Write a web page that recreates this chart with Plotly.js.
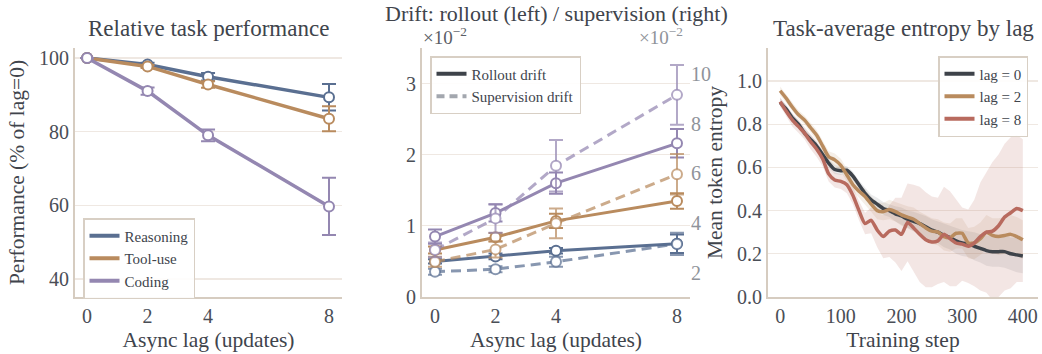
<!DOCTYPE html>
<html><head><meta charset="utf-8">
<script src="https://cdn.plot.ly/plotly-3.0.1.min.js"></script>
<style>html,body{margin:0;padding:0;background:#fff}</style>
</head><body><div id="chart" style="width:1042px;height:354px"></div>
<script>
// ---------- data ----------
const lags = [0, 2, 4, 8];
const lagTicks = ['0', '2', '4', '8'];

const perfReasoning = [100, 98.2, 94.9, 89.3];
const perfReasoningErr = [0, 0.5, 1.0, 3.6];
const perfToolUse = [100, 97.7, 92.8, 83.5];
const perfToolUseErr = [0, 0.4, 0.9, 3.4];
const perfCoding = [100, 91.0, 79.0, 59.7];
const perfCodingErr = [0, 1.0, 1.6, 7.8];
const refLevel = 100;

// rollout drift (left axis, x1e-2)
const rolloutReasoning = [0.50, 0.57, 0.65, 0.75];
const rolloutReasoningErr = [0.03, 0.04, 0.04, 0.13];
const rolloutToolUse = [0.66, 0.84, 1.07, 1.35];
const rolloutToolUseErr = [0.05, 0.06, 0.10, 0.11];
const rolloutCoding = [0.85, 1.18, 1.60, 2.16];
const rolloutCodingErr = [0.10, 0.12, 0.15, 0.20];
// supervision drift (right axis, x1e-2)
const supReasoning = [2.04, 2.14, 2.44, 3.16];
const supReasoningErr = [0.12, 0.12, 0.20, 0.45];
const supToolUse = [2.44, 2.94, 3.99, 5.97];
const supToolUseErr = [0.20, 0.33, 0.60, 0.82];
const supCoding = [2.92, 4.19, 6.31, 9.17];
const supCodingErr = [0.30, 0.58, 1.04, 1.20];

// entropy curves
const steps = [0,10,20,30,40,50,60,70,80,90,100,110,120,130,140,150,160,170,180,190,200,
               210,220,230,240,250,260,270,280,290,300,310,320,330,340,350,360,370,380,390,400];
const entLag0 = [0.90,0.87,0.83,0.80,0.76,0.73,0.70,0.66,0.62,0.59,0.585,0.587,0.56,0.52,0.48,0.45,0.43,0.41,0.40,0.385,0.375,
                 0.36,0.35,0.34,0.325,0.31,0.30,0.285,0.275,0.26,0.25,0.245,0.235,0.225,0.215,0.21,0.21,0.21,0.20,0.195,0.19];
const entLag0Std = [0.02,0.02,0.02,0.02,0.02,0.02,0.02,0.02,0.02,0.02,0.02,0.02,0.02,0.02,0.025,0.025,0.03,0.03,0.03,0.035,0.04,
                    0.04,0.045,0.045,0.05,0.05,0.05,0.055,0.055,0.06,0.06,0.06,0.065,0.065,0.07,0.07,0.07,0.075,0.075,0.08,0.08];
const entLag2 = [0.955,0.92,0.88,0.845,0.82,0.785,0.75,0.70,0.65,0.635,0.61,0.565,0.52,0.49,0.465,0.43,0.40,0.395,0.405,0.395,0.38,
                 0.37,0.36,0.34,0.32,0.305,0.30,0.28,0.275,0.295,0.295,0.25,0.25,0.27,0.30,0.285,0.28,0.285,0.29,0.28,0.265];
const entLag2Std = [0.02,0.02,0.02,0.02,0.02,0.025,0.025,0.025,0.025,0.03,0.03,0.03,0.03,0.03,0.035,0.035,0.04,0.04,0.045,0.045,0.05,
                    0.05,0.055,0.055,0.06,0.06,0.06,0.065,0.065,0.07,0.07,0.07,0.075,0.075,0.08,0.08,0.085,0.085,0.09,0.09,0.09];
const entLag8 = [0.905,0.86,0.82,0.79,0.76,0.72,0.685,0.64,0.57,0.542,0.535,0.52,0.47,0.40,0.34,0.355,0.31,0.28,0.305,0.31,0.29,
                 0.345,0.32,0.29,0.265,0.255,0.26,0.29,0.27,0.25,0.245,0.235,0.25,0.28,0.30,0.305,0.33,0.37,0.39,0.41,0.40];
const entLag8Std = [0.02,0.025,0.03,0.03,0.03,0.035,0.035,0.035,0.035,0.035,0.035,0.04,0.04,0.045,0.05,0.06,0.08,0.10,0.12,0.15,0.17,
                    0.18,0.20,0.22,0.22,0.21,0.20,0.22,0.22,0.20,0.17,0.17,0.20,0.25,0.28,0.32,0.33,0.34,0.35,0.34,0.33];

// ---------- style ----------
const FONT = 'Liberation Serif';
const TXT = '#40444c';
const SPINE = '#d6ccc0';
const GRID = '#efe8e2';
const C_REA = '#5a6f91', C_TOOL = '#b98b5e', C_COD = '#9487b1';
const C_REA_L = 'rgba(90,111,145,0.72)', C_TOOL_L = 'rgba(185,139,94,0.72)', C_COD_L = 'rgba(148,135,177,0.72)';
const C_L0 = '#3e434a', C_L2 = '#b98b5e', C_L8 = '#b86a5e';

function perfTrace(y, err, color, xa, ya, extra) {
  return Object.assign({
    x: lags, y: y, xaxis: xa, yaxis: ya, type: 'scatter', mode: 'lines+markers',
    line: {color: color, width: 3.5},
    marker: {symbol: 'circle', size: 10, color: '#ffffff', line: {color: color, width: 2}},
    error_y: {type: 'data', array: err, visible: true, color: color, thickness: 2, width: 7},
    showlegend: false, hoverinfo: 'skip', cliponaxis: false
  }, extra || {});
}
function legTrace(name, color, legend, dash) {
  return {x: [null], y: [null], type: 'scatter', mode: 'lines', name: name, legend: legend,
          line: {color: color, width: 4, dash: dash || 'solid'}, xaxis: 'x', yaxis: 'y', hoverinfo: 'skip'};
}
function band(mean, std, color) {
  const lo = mean.map((m, i) => m - std[i]);
  const hi = mean.map((m, i) => m + std[i]);
  return [
    {x: steps, y: lo, xaxis: 'x3', yaxis: 'y4', type: 'scatter', mode: 'lines', line: {width: 0, color: color}, showlegend: false, hoverinfo: 'skip'},
    {x: steps, y: hi, xaxis: 'x3', yaxis: 'y4', type: 'scatter', mode: 'lines', line: {width: 0, color: color}, fill: 'tonexty', fillcolor: color, showlegend: false, hoverinfo: 'skip'}
  ];
}
function entLine(y, color) {
  return {x: steps, y: y, xaxis: 'x3', yaxis: 'y4', type: 'scatter', mode: 'lines',
          line: {color: color, width: 3.5, shape: 'spline', smoothing: 0.6}, showlegend: false, hoverinfo: 'skip'};
}

const dashPat = '10px,6px';
const traces = [
  // panel 1
  perfTrace(perfReasoning, perfReasoningErr, C_REA, 'x', 'y'),
  perfTrace(perfToolUse, perfToolUseErr, C_TOOL, 'x', 'y'),
  perfTrace(perfCoding, perfCodingErr, C_COD, 'x', 'y'),
  // panel 2 supervision (right axis)
  perfTrace(supReasoning, supReasoningErr, C_REA_L, 'x2', 'y3', {line: {color: C_REA_L, width: 3, dash: dashPat}}),
  perfTrace(supToolUse, supToolUseErr, C_TOOL_L, 'x2', 'y3', {line: {color: C_TOOL_L, width: 3, dash: dashPat}}),
  perfTrace(supCoding, supCodingErr, C_COD_L, 'x2', 'y3', {line: {color: C_COD_L, width: 3, dash: dashPat}}),
  // panel 2 rollout (left axis)
  perfTrace(rolloutReasoning, rolloutReasoningErr, C_REA, 'x2', 'y2', {line: {color: C_REA, width: 3}}),
  perfTrace(rolloutToolUse, rolloutToolUseErr, C_TOOL, 'x2', 'y2', {line: {color: C_TOOL, width: 3}}),
  perfTrace(rolloutCoding, rolloutCodingErr, C_COD, 'x2', 'y2', {line: {color: C_COD, width: 3}}),
  // panel 3
  ...band(entLag0, entLag0Std, 'rgba(62,67,74,0.10)'),
  ...band(entLag2, entLag2Std, 'rgba(185,139,94,0.14)'),
  ...band(entLag8, entLag8Std, 'rgba(184,106,94,0.17)'),
  entLine(entLag0, C_L0),
  entLine(entLag2, C_L2),
  entLine(entLag8, C_L8),
  // legends
  legTrace('Reasoning', C_REA, 'legend'),
  legTrace('Tool-use', C_TOOL, 'legend'),
  legTrace('Coding', C_COD, 'legend'),
  legTrace('Rollout drift', '#3e434a', 'legend2'),
  legTrace('Supervision drift', '#a3a7ae', 'legend2', '8px,5px'),
  legTrace('lag = 0', C_L0, 'legend3'),
  legTrace('lag = 2', C_L2, 'legend3'),
  legTrace('lag = 8', C_L8, 'legend3')
];

const W = 1042, H = 354;
const px = v => v / W, py = v => 1 - v / H;
const ydom = [py(297), py(48)];
const tickf = {family: FONT, size: 20, color: '#4a4e56'};
const titf = {family: FONT, size: 21.5, color: TXT};
function xa(dom, range, extra) {
  return Object.assign({domain: dom, range: range, showline: true, linecolor: SPINE, linewidth: 2,
    showgrid: false, zeroline: false, ticks: '', tickfont: tickf, fixedrange: true}, extra || {});
}
function ya(dom, range, extra) {
  return Object.assign({domain: dom, range: range, showline: true, linecolor: SPINE, linewidth: 2,
    showgrid: true, gridcolor: GRID, gridwidth: 1.2, zeroline: false, ticks: '', tickfont: tickf, fixedrange: true}, extra || {});
}
const legBase = {bgcolor: 'rgba(255,255,255,0.9)', bordercolor: '#d8cfc4', borderwidth: 1.5, traceorder: 'normal',
  font: {family: FONT, size: 15, color: TXT}, itemwidth: 30, tracegroupgap: 0, xanchor: 'left', yanchor: 'top'};

const layout = {
  width: W, height: H, margin: {l: 0, r: 0, t: 0, b: 0},
  paper_bgcolor: '#ffffff', plot_bgcolor: '#ffffff',
  font: {family: FONT, color: TXT},
  xaxis: xa([px(75), px(342)], [-0.4, 8.43], {anchor: 'y', tickvals: lags, ticktext: lagTicks,
    title: {text: 'Async lag (updates)', font: titf, standoff: 6}}),
  yaxis: ya(ydom, [35.1, 102.7], {anchor: 'x', tickvals: [40, 60, 80, 100],
    title: {text: 'Performance (% of lag=0)', font: titf, standoff: 8}}),
  xaxis2: xa([px(422), px(690)], [-0.43, 8.43], {anchor: 'y2', tickvals: lags, ticktext: lagTicks,
    title: {text: 'Async lag (updates)', font: titf, standoff: 6}}),
  yaxis2: ya(ydom, [0, 3.5], {anchor: 'x2', tickvals: [0, 1, 2, 3]}),
  yaxis3: {overlaying: 'y2', side: 'right', anchor: 'x2', range: [1.02, 11.06], showline: false, showgrid: false,
    zeroline: false, ticks: '', tickvals: [2, 4, 6, 8, 10], tickfont: {family: FONT, size: 20, color: '#8f939a'}, fixedrange: true},
  xaxis3: xa([px(768), px(1038)], [-20, 425], {anchor: 'y4', tickvals: [0, 100, 200, 300, 400],
    title: {text: 'Training step', font: titf, standoff: 6}}),
  yaxis4: ya(ydom, [0, 1.153], {anchor: 'x3', tickvals: [0, 0.2, 0.4, 0.6, 0.8, 1.0], tickformat: '.1f',
    title: {text: 'Mean token entropy', font: titf, standoff: 8}}),
  legend: Object.assign({}, legBase, {x: px(83), y: py(218)}),
  legend2: Object.assign({}, legBase, {x: px(430), y: py(56)}),
  legend3: Object.assign({}, legBase, {x: px(1028), y: py(56), xanchor: 'right'}),
  shapes: [{type: 'line', xref: 'x domain', yref: 'y', x0: 0, x1: 1, y0: refLevel, y1: refLevel,
            line: {color: '#b5b5b5', width: 1.5}, layer: 'below'}],
  annotations: [
    {text: 'Relative task performance', xref: 'paper', yref: 'paper', x: px(208), y: py(28), showarrow: false,
     font: {family: FONT, size: 23, color: TXT}, xanchor: 'center', yanchor: 'middle'},
    {text: 'Drift: rollout (left) / supervision (right)', xref: 'paper', yref: 'paper', x: px(556), y: py(13), showarrow: false,
     font: {family: FONT, size: 22, color: TXT}, xanchor: 'center', yanchor: 'middle'},
    {text: 'Task-average entropy by lag', xref: 'paper', yref: 'paper', x: px(903), y: py(28), showarrow: false,
     font: {family: FONT, size: 23, color: TXT}, xanchor: 'center', yanchor: 'middle'},
    {text: '×10<sup>−2</sup>', xref: 'paper', yref: 'paper', x: px(421), y: py(36), showarrow: false,
     font: {family: FONT, size: 19, color: '#5a5e66'}, xanchor: 'left', yanchor: 'middle'},
    {text: '×10<sup>−2</sup>', xref: 'paper', yref: 'paper', x: px(637), y: py(36), showarrow: false,
     font: {family: FONT, size: 19, color: '#8f939a'}, xanchor: 'left', yanchor: 'middle'}
  ]
};

Plotly.newPlot('chart', traces, layout, {displayModeBar: false, staticPlot: true});
</script>
</body></html>
